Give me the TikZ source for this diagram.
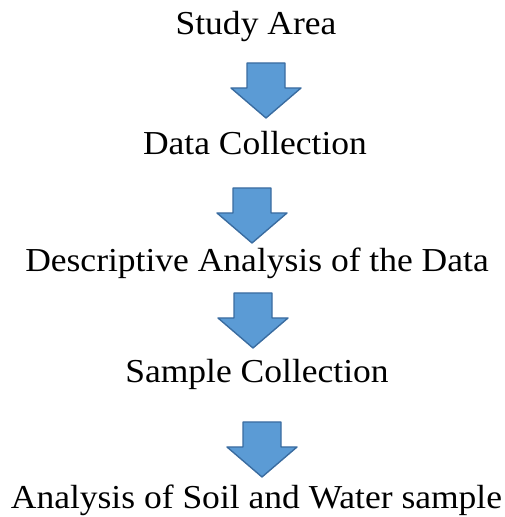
\documentclass[tikz,border=0pt]{standalone}
\usepackage{fontspec}
\setmainfont{Liberation Serif}[FakeStretch=1.06]
\usepackage{tikz}
\definecolor{arrowfill}{RGB}{91,155,213}
\definecolor{arrowline}{RGB}{58,108,160}

\begin{document}
\begin{tikzpicture}[
    x=1pt, y=1pt,
    stage/.style={anchor=base, inner sep=0pt, font=\fontsize{33.5}{40}\selectfont},
    downarrow/.pic={
      \draw[fill=arrowfill, draw=arrowline, line width=1.4pt, line join=round]
        (-19,0) -- (19,0) -- (19,-25) -- (35,-25) -- (0,-55)
        -- (-35,-25) -- (-19,-25) -- cycle;
    }]
    \useasboundingbox (0,0) rectangle (504,517);
    \node[stage] (study) at (256,482) {Study Area};
    \node[stage] (data) at (255,362) {Data Collection};
    \node[stage] (desc) at (257,245) {Descriptive Analysis of the Data};
    \node[stage] (sample) at (257,134) {Sample Collection};
    \node[stage] (soil) at (256.5,9) {Analysis of Soil and Water sample};
    % block arrows between the stages
    \pic (a1) at (266,454) {downarrow};
    \pic (a2) at (252,329) {downarrow};
    \pic (a3) at (253,224) {downarrow};
    \pic (a4) at (262,95) {downarrow};
  \end{tikzpicture}
\end{document}
